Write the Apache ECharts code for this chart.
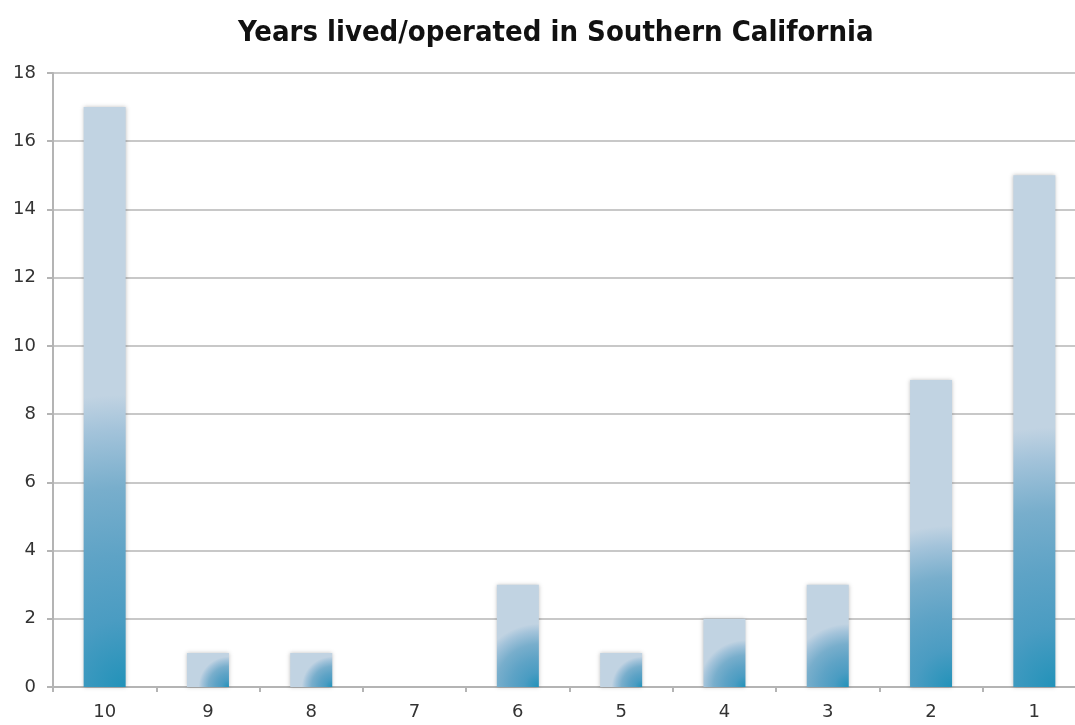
<!DOCTYPE html>
<html>
<head>
<meta charset="utf-8">
<script src="https://cdn.jsdelivr.net/npm/echarts@6/dist/echarts.min.js"></script>
<style>html,body{margin:0;padding:0;background:#fff;}#c{width:1075px;height:725px;}</style>
</head>
<body>
<div id="c"></div>
<script>
const titleText = 'Years lived/operated in Southern California';
const categories = ['10', '9', '8', '7', '6', '5', '4', '3', '2', '1'];
const values = [17, 1, 1, 0, 3, 1, 2, 3, 9, 15];
const yTicks = [0, 2, 4, 6, 8, 10, 12, 14, 16, 18];

const PX_PER_UNIT = 34.1, BAR_W = 42;
function barColor(p) {
  const v = p.value;
  if (!v) return '#c2d3e2';
  const h = v * PX_PER_UNIT;
  const m = Math.min(h, BAR_W);
  const r = (0.48 * h + 14) / m;
  return {
    type: 'radial', x: 1, y: 1, r: r,
    colorStops: [
      {offset: 0, color: '#2292b9'},
      {offset: 0.23, color: '#4a9cc2'},
      {offset: 0.45, color: '#5ea3c6'},
      {offset: 0.68, color: '#78aecc'},
      {offset: 0.88, color: '#a3c3da'},
      {offset: 1, color: '#c1d3e2'}
    ]
  };
}

const chart = echarts.init(document.getElementById('c'), null, {renderer: 'canvas'});
chart.setOption({
  animation: false,
  backgroundColor: '#ffffff',
  title: {
    text: titleText, left: 233, top: 14,
    textStyle: {fontFamily: 'DejaVu Sans Condensed', fontWeight: 'bold', fontSize: 29, color: '#111'}
  },
  grid: {left: 53, width: 1033, top: 73, bottom: 38, containLabel: false, outerBoundsMode: 'none'},
  xAxis: {
    type: 'category', data: categories,
    axisLine: {lineStyle: {color: '#b4b4b4', width: 2}},
    axisTick: {show: true, length: 5, lineStyle: {color: '#b4b4b4', width: 2}},
    axisLabel: {color: '#333', fontSize: 18, fontFamily: 'DejaVu Sans', margin: 16},
    splitLine: {show: false}
  },
  yAxis: {
    type: 'value', min: yTicks[0], max: yTicks[yTicks.length - 1], interval: 2,
    axisLine: {show: true, lineStyle: {color: '#b4b4b4', width: 2}},
    axisTick: {show: true, length: 6, lineStyle: {color: '#b4b4b4', width: 2}},
    axisLabel: {color: '#333', fontSize: 18, fontFamily: 'DejaVu Sans', margin: 17},
    splitLine: {lineStyle: {color: '#c8c8c8', width: 2}}
  },
  series: [{
    type: 'bar', data: values, barWidth: BAR_W,
    itemStyle: {color: barColor, shadowBlur: 4, shadowColor: 'rgba(0,0,0,0.25)'}
  }]
});
</script>
</body>
</html>
